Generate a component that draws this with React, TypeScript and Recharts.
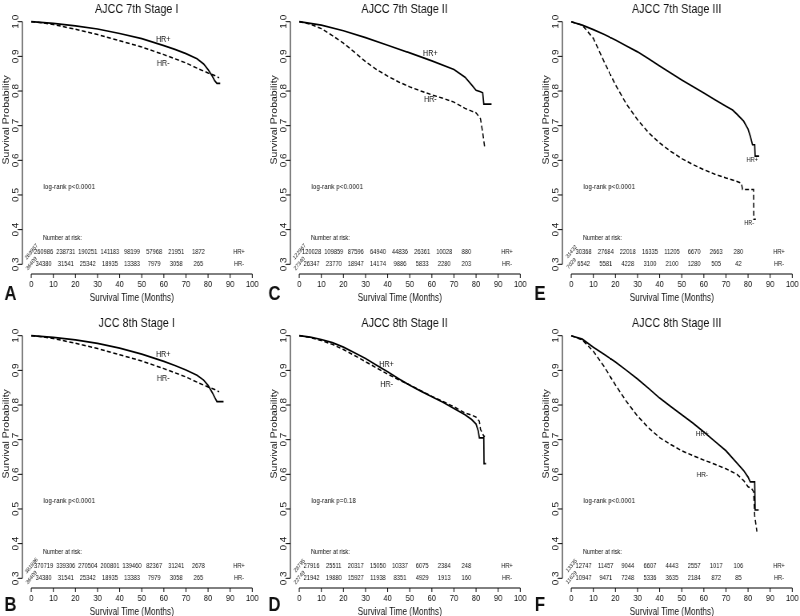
import React from 'react';
import { LineChart, Line, XAxis, YAxis, ReferenceLine, ReferenceDot } from 'recharts';

const FONT = '"Liberation Sans", Arial, Helvetica, sans-serif';
const INK = '#111';

const X_TICKS = [0, 10, 20, 30, 40, 50, 60, 70, 80, 90, 100];
const Y_TICKS = [0.3, 0.4, 0.5, 0.6, 0.7, 0.8, 0.9, 1.0];
const Y_TICK_LABELS = ['0.3', '0.4', '0.5', '0.6', '0.7', '0.8', '0.9', '1.0'];
const AT_RISK_TIMES = [0, 10, 20, 30, 40, 50, 60, 70, 80];
const X_DOMAIN: [number, number] = [-4, 104];
const Y_DOMAIN: [number, number] = [0.272, 1.028];

// A: AJCC 7th Stage I
const A_POS_T = [0, 10, 20, 30, 40, 50, 60, 65, 70, 75, 78, 80, 82, 83, 84, 85.5];
const A_POS_S = [1, 0.995, 0.988, 0.979, 0.966, 0.951, 0.931, 0.92, 0.908, 0.893, 0.878, 0.862, 0.842, 0.83, 0.822, 0.822];
const A_NEG_T = [0, 5, 10, 20, 30, 40, 50, 60, 65, 70, 75, 80, 83, 85];
const A_NEG_S = [1, 0.997, 0.992, 0.978, 0.963, 0.945, 0.927, 0.905, 0.893, 0.881, 0.866, 0.852, 0.845, 0.838];
const A_RISK_POS = ['269957', '260986', '238731', '190251', '141183', '98199', '57968', '21951', '1872'];
const A_RISK_NEG = ['36409', '34380', '31541', '25342', '18935', '13383', '7979', '3058', '265'];

// C: AJCC 7th Stage II
const C_POS_T = [0, 10, 20, 30, 40, 50, 60, 70, 75, 78, 80, 82, 83, 83.5, 87];
const C_POS_S = [1, 0.99, 0.974, 0.954, 0.932, 0.91, 0.887, 0.862, 0.84, 0.818, 0.802, 0.798, 0.795, 0.762, 0.762];
const C_NEG_T = [0, 5, 10, 15, 20, 25, 30, 35, 40, 45, 50, 55, 60, 65, 70, 75, 78, 80, 82, 83, 84];
const C_NEG_S = [1, 0.993, 0.98, 0.96, 0.938, 0.912, 0.885, 0.862, 0.843, 0.826, 0.812, 0.8, 0.789, 0.779, 0.768, 0.75, 0.742, 0.737, 0.72, 0.68, 0.633];
const C_RISK_POS = ['122967', '120028', '109859', '87596', '64940', '44836', '26361', '10028', '880'];
const C_RISK_NEG = ['27340', '26347', '23770', '18947', '14174', '9886', '5833', '2280', '203'];

// E: AJCC 7th Stage III
const E_POS_T = [0, 5, 10, 15, 20, 25, 30, 35, 40, 45, 50, 55, 60, 65, 70, 73, 75, 78, 80, 81, 82, 83, 83.2, 85];
const E_POS_S = [1, 0.99, 0.977, 0.963, 0.947, 0.93, 0.913, 0.893, 0.872, 0.852, 0.832, 0.813, 0.794, 0.775, 0.756, 0.745, 0.733, 0.713, 0.69, 0.67, 0.645, 0.645, 0.612, 0.612];
const E_NEG_T = [0, 5, 10, 15, 20, 25, 30, 35, 40, 45, 50, 55, 60, 65, 70, 75, 77, 77.5, 82.5, 82.6, 83.5];
const E_NEG_S = [1, 0.99, 0.952, 0.883, 0.818, 0.762, 0.717, 0.68, 0.65, 0.626, 0.605, 0.588, 0.573, 0.56, 0.549, 0.539, 0.534, 0.516, 0.516, 0.43, 0.43];
const E_RISK_POS = ['31432', '30368', '27684', '22018', '16335', '11205', '6670', '2663', '280'];
const E_RISK_NEG = ['7029', '6542', '5581', '4228', '3100', '2100', '1280', '505', '42'];

// B: AJCC 8th Stage I
const B_POS_T = [0, 10, 20, 30, 40, 50, 60, 65, 70, 75, 78, 80, 82, 83, 84, 87];
const B_POS_S = [1, 0.995, 0.988, 0.978, 0.964, 0.947, 0.926, 0.914, 0.901, 0.886, 0.872, 0.857, 0.835, 0.822, 0.81, 0.81];
const B_NEG_T = [0, 5, 10, 20, 30, 40, 50, 60, 65, 70, 75, 80, 83, 85];
const B_NEG_S = [1, 0.997, 0.992, 0.978, 0.963, 0.945, 0.927, 0.905, 0.893, 0.881, 0.866, 0.852, 0.845, 0.838];
const B_RISK_POS = ['381896', '370719', '339306', '270504', '200801', '139460', '82367', '31241', '2678'];
const B_RISK_NEG = ['36409', '34380', '31541', '25342', '18935', '13383', '7979', '3058', '265'];

// D: AJCC 8th Stage II
const D_POS_T = [0, 5, 10, 15, 20, 25, 30, 35, 40, 45, 50, 55, 60, 65, 70, 75, 78, 80, 81, 81.5, 83.5, 83.6, 84.5];
const D_POS_S = [1, 0.996, 0.989, 0.98, 0.967, 0.951, 0.934, 0.915, 0.896, 0.876, 0.857, 0.84, 0.824, 0.808, 0.79, 0.772, 0.758, 0.745, 0.725, 0.705, 0.705, 0.631, 0.631];
const D_NEG_T = [0, 5, 10, 15, 20, 25, 30, 35, 40, 45, 50, 55, 60, 65, 70, 75, 78, 80, 81.5, 82, 83.5, 84];
const D_NEG_S = [1, 0.995, 0.986, 0.975, 0.96, 0.943, 0.925, 0.907, 0.889, 0.873, 0.858, 0.841, 0.825, 0.81, 0.795, 0.777, 0.771, 0.765, 0.753, 0.73, 0.71, 0.71];
const D_RISK_POS = ['28795', '27916', '25511', '20317', '15050', '10337', '6075', '2384', '248'];
const D_RISK_NEG = ['22749', '21942', '19880', '15927', '11938', '8351', '4929', '1913', '160'];

// F: AJCC 8th Stage III
const F_POS_T = [0, 5, 10, 15, 20, 25, 30, 35, 40, 45, 50, 55, 60, 65, 70, 75, 78, 80, 81, 83, 83.2, 84.8];
const F_POS_S = [1, 0.99, 0.967, 0.946, 0.924, 0.9, 0.875, 0.848, 0.82, 0.796, 0.772, 0.748, 0.722, 0.695, 0.668, 0.632, 0.611, 0.592, 0.578, 0.578, 0.497, 0.497];
const F_NEG_T = [0, 5, 10, 15, 20, 25, 30, 35, 40, 45, 50, 55, 60, 65, 70, 75, 78, 80, 81.5, 82.5, 83, 84];
const F_NEG_S = [1, 0.988, 0.955, 0.91, 0.858, 0.81, 0.768, 0.734, 0.706, 0.686, 0.668, 0.654, 0.641, 0.629, 0.616, 0.6, 0.582, 0.564, 0.56, 0.55, 0.48, 0.435];
const F_RISK_POS = ['13335', '12747', '11457', '9044', '6607', '4443', '2557', '1017', '106'];
const F_RISK_NEG = ['11629', '10947', '9471', '7248', '5336', '3635', '2184', '872', '85'];

type Panel = {
  title: string; letter: string; col: number; row: number;
  posT: number[]; posS: number[]; negT: number[]; negS: number[];
  riskPos: string[]; riskNeg: string[]; pText: string;
  hrPos: [number, number]; hrNeg: [number, number]; hrSize: number;
};

const PANELS: Panel[] = [
  { title: 'AJCC 7th Stage I', letter: 'A', col: 0, row: 0, posT: A_POS_T, posS: A_POS_S, negT: A_NEG_T, negS: A_NEG_S, riskPos: A_RISK_POS, riskNeg: A_RISK_NEG, pText: 'log-rank p<0.0001', hrPos: [59.7, 0.951], hrNeg: [59.7, 0.882], hrSize: 9 },
  { title: 'AJCC 7th Stage II', letter: 'C', col: 1, row: 0, posT: C_POS_T, posS: C_POS_S, negT: C_NEG_T, negS: C_NEG_S, riskPos: C_RISK_POS, riskNeg: C_RISK_NEG, pText: 'log-rank p<0.0001', hrPos: [59.3, 0.91], hrNeg: [59.3, 0.778], hrSize: 9 },
  { title: 'AJCC 7th Stage III', letter: 'E', col: 2, row: 0, posT: E_POS_T, posS: E_POS_S, negT: E_NEG_T, negS: E_NEG_S, riskPos: E_RISK_POS, riskNeg: E_RISK_NEG, pText: 'log-rank p<0.0001', hrPos: [81.9, 0.603], hrNeg: [80.5, 0.421], hrSize: 7 },
  { title: 'JCC 8th Stage I', letter: 'B', col: 0, row: 1, posT: B_POS_T, posS: B_POS_S, negT: B_NEG_T, negS: B_NEG_S, riskPos: B_RISK_POS, riskNeg: B_RISK_NEG, pText: 'log-rank p<0.0001', hrPos: [59.7, 0.947], hrNeg: [59.7, 0.878], hrSize: 9 },
  { title: 'AJCC 8th Stage II', letter: 'D', col: 1, row: 1, posT: D_POS_T, posS: D_POS_S, negT: D_NEG_T, negS: D_NEG_S, riskPos: D_RISK_POS, riskNeg: D_RISK_NEG, pText: 'log-rank p=0.18', hrPos: [39.5, 0.92], hrNeg: [39.5, 0.86], hrSize: 9 },
  { title: 'AJCC 8th Stage III', letter: 'F', col: 2, row: 1, posT: F_POS_T, posS: F_POS_S, negT: F_NEG_T, negS: F_NEG_S, riskPos: F_RISK_POS, riskNeg: F_RISK_NEG, pText: 'log-rank p<0.0001', hrPos: [59.3, 0.72], hrNeg: [59.3, 0.6], hrSize: 8 },
];

// layout (design coordinates, later squeezed horizontally by 0.8)
const SQUEEZE = 0.8;
const COL_LEFT = [-0.5, 334.5, 674.5];
const ROW_TOP = [0, 314];
const LETTER_X = [13, 343, 675];
const LETTER_Y = [300, 611];
const W = 330;
const H = 306;
const Y_AXIS_W = 28;
const X_AXIS_H = 32;
const MARGIN = { top: 12, right: 3.6, bottom: 0, left: 0 };

const ROW_Y_NAR = 0.378;
const ROW_Y_POS = 0.337;
const ROW_Y_NEG = 0.303;

const YTick = (props: any) => {
  const { x, y, payload } = props;
  const idx = Y_TICKS.findIndex((v) => Math.abs(v - Number(payload.value)) < 1e-6);
  const label = idx >= 0 ? Y_TICK_LABELS[idx] : String(payload.value);
  return (
    <text transform={`translate(${x + 1.5},${y}) rotate(-90)`} textAnchor="middle" fontSize={10} fill={INK} fontFamily={FONT}>
      {label}
    </text>
  );
};

function note(key: string, x: number, y: number, render: (cx: number, cy: number) => React.ReactElement) {
  return (
    <ReferenceDot
      key={key}
      x={x}
      y={y}
      r={1}
      ifOverflow="visible"
      isFront
      shape={(p: any) => render(p.cx, p.cy)}
    />
  );
}

function KMPanel({ p }: { p: Panel }) {
  const pos = p.posT.map((t, i) => ({ t, s: p.posS[i] }));
  const neg = p.negT.map((t, i) => ({ t, s: p.negS[i] }));
  const txt = { fontFamily: FONT, fill: INK } as const;
  return (
    <div style={{ position: 'absolute', left: COL_LEFT[p.col], top: ROW_TOP[p.row] }}>
      <LineChart width={W} height={H} margin={MARGIN} style={{ overflow: 'visible' }}>
        <XAxis
          type="number" dataKey="t" domain={X_DOMAIN} ticks={X_TICKS} interval={0}
          allowDataOverflow axisLine={false} tickSize={4} tickMargin={2.5} height={X_AXIS_H}
          tickLine={{ stroke: '#000' }} tick={{ fontSize: 9.5, fill: INK, fontFamily: FONT }}
        />
        <YAxis
          type="number" dataKey="s" domain={Y_DOMAIN} ticks={Y_TICKS} interval={0}
          allowDataOverflow axisLine={false} tickSize={5} tickMargin={2} width={Y_AXIS_W}
          tickLine={{ stroke: '#000' }} tick={<YTick />}
        />
        <ReferenceLine segment={[{ x: 0, y: Y_DOMAIN[0] }, { x: 100, y: Y_DOMAIN[0] }]} stroke="#000" strokeWidth={1} ifOverflow="visible" />
        <ReferenceLine segment={[{ x: X_DOMAIN[0], y: 0.3 }, { x: X_DOMAIN[0], y: 1.0 }]} stroke="#000" strokeWidth={1} ifOverflow="visible" />
        <Line data={pos} dataKey="s" type="linear" stroke="#000" strokeWidth={1.7} dot={false} activeDot={false} isAnimationActive={false} />
        <Line data={neg} dataKey="s" type="linear" stroke="#000" strokeWidth={1.5} strokeDasharray="5 3" dot={false} activeDot={false} isAnimationActive={false} />
        {note('title', 47.7, Y_DOMAIN[1], (cx, cy) => (
          <text x={cx} y={cy + 1} textAnchor="middle" fontSize={13.5} {...txt}>{p.title}</text>
        ))}
        {note('xlab', 45.5, Y_DOMAIN[0], (cx, cy) => (
          <text x={cx} y={cy + 27} textAnchor="middle" fontSize={10.3} {...txt}>Survival Time (Months)</text>
        ))}
        {note('ylab', X_DOMAIN[0], 0.717, (cx, cy) => (
          <text transform={`translate(${cx - 17},${cy}) rotate(-90)`} textAnchor="middle" fontSize={10.5} {...txt}>Survival Probability</text>
        ))}
        {note('pval', 5.5, 0.525, (cx, cy) => (
          <text x={cx} y={cy} dy="0.35em" textAnchor="start" fontSize={8} {...txt}>{p.pText}</text>
        ))}
        {note('hrpos', p.hrPos[0], p.hrPos[1], (cx, cy) => (
          <text x={cx} y={cy} dy="0.35em" textAnchor="middle" fontSize={p.hrSize} {...txt}>HR+</text>
        ))}
        {note('hrneg', p.hrNeg[0], p.hrNeg[1], (cx, cy) => (
          <text x={cx} y={cy} dy="0.35em" textAnchor="middle" fontSize={p.hrSize} {...txt}>HR-</text>
        ))}
        {note('nar', 5.3, ROW_Y_NAR, (cx, cy) => (
          <text x={cx} y={cy} dy="0.35em" textAnchor="start" fontSize={7.2} {...txt}>Number at risk:</text>
        ))}
        {AT_RISK_TIMES.map((t, i) =>
          i === 0
            ? note(`rp${i}`, t, ROW_Y_POS, (cx, cy) => (
                <text transform={`translate(${cx},${cy}) rotate(-45)`} dy="0.35em" textAnchor="middle" fontSize={6} {...txt}>{p.riskPos[i]}</text>
              ))
            : note(`rp${i}`, t - 4.4, ROW_Y_POS, (cx, cy) => (
                <text x={cx} y={cy} dy="0.35em" textAnchor="middle" fontSize={7.2} {...txt}>{p.riskPos[i]}</text>
              ))
        )}
        {AT_RISK_TIMES.map((t, i) =>
          i === 0
            ? note(`rn${i}`, t, ROW_Y_NEG, (cx, cy) => (
                <text transform={`translate(${cx},${cy}) rotate(-45)`} dy="0.35em" textAnchor="middle" fontSize={6} {...txt}>{p.riskNeg[i]}</text>
              ))
            : note(`rn${i}`, t - 4.4, ROW_Y_NEG, (cx, cy) => (
                <text x={cx} y={cy} dy="0.35em" textAnchor="middle" fontSize={7.2} {...txt}>{p.riskNeg[i]}</text>
              ))
        )}
        {note('grpPos', 94, ROW_Y_POS, (cx, cy) => (
          <text x={cx} y={cy} dy="0.35em" textAnchor="middle" fontSize={7.2} {...txt}>HR+</text>
        ))}
        {note('grpNeg', 94, ROW_Y_NEG, (cx, cy) => (
          <text x={cx} y={cy} dy="0.35em" textAnchor="middle" fontSize={7.2} {...txt}>HR-</text>
        ))}
      </LineChart>
      <div
        style={{
          position: 'absolute',
          left: LETTER_X[p.col] - COL_LEFT[p.col] - 10,
          top: LETTER_Y[p.row] - ROW_TOP[p.row] - 17,
          width: 20,
          textAlign: 'center',
          font: `bold 21px ${FONT}`,
          color: INK,
          lineHeight: '20px',
        }}
      >
        {p.letter}
      </div>
    </div>
  );
}

export default function App() {
  return (
    <div style={{ position: 'absolute', left: 0, top: 0, width: 800, height: 616, overflow: 'hidden', background: '#fff' }}>
      <div
        style={{
          position: 'absolute', left: 0, top: 0, width: 1000, height: 616,
          transform: `scale(${SQUEEZE}, 1)`, transformOrigin: '0 0', willChange: 'transform',
        }}
      >
        {PANELS.map((p) => (
          <KMPanel key={p.letter} p={p} />
        ))}
      </div>
    </div>
  );
}
